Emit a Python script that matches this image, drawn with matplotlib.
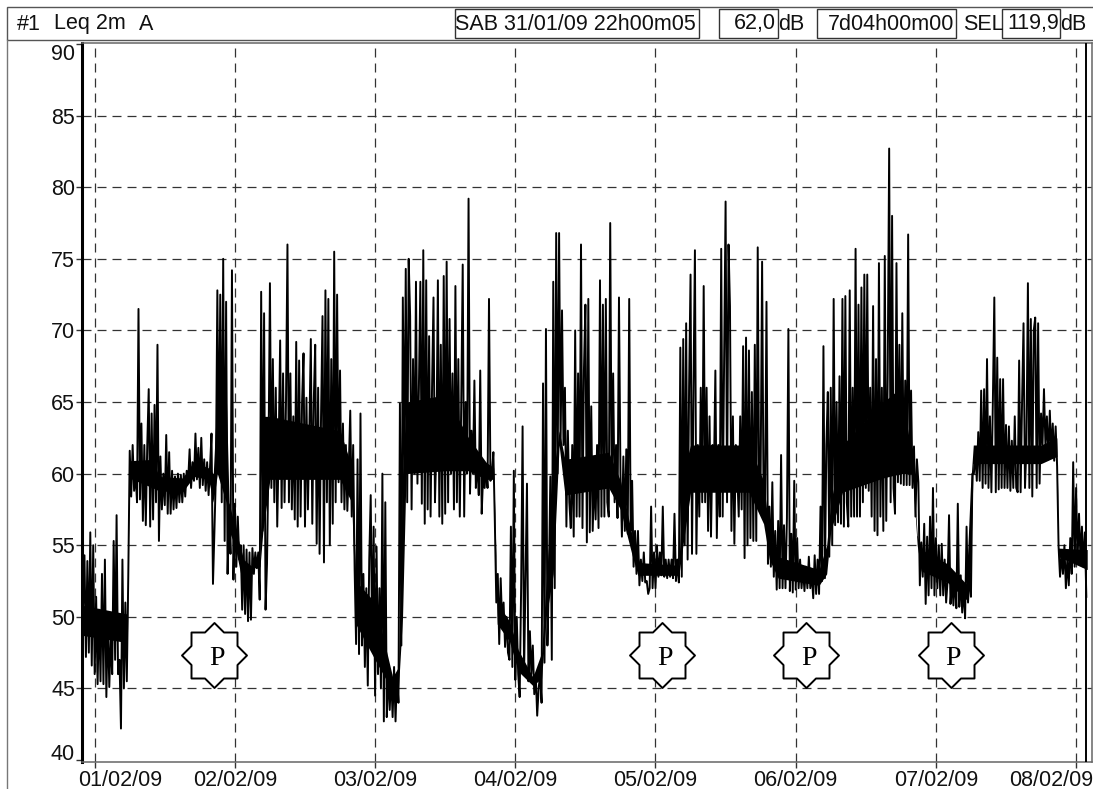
#%% Bibliotecas
import numpy as np
import matplotlib
matplotlib.use("Agg")
import matplotlib.pyplot as plt
from matplotlib.patches import Rectangle
from matplotlib.lines import Line2D
from matplotlib.path import Path
from matplotlib.transforms import ScaledTranslation

plt.rcParams["font.family"] = ["Liberation Sans", "DejaVu Sans"]

#%% Leq 2m A, dB, four readings per hour
leq_3101 = [50.5,54.3,47.2,53.9, 47.5,55.9,46.6,55]
leq_0102 = [46,51.4,45.3,50.5, 45.5,53,45.3,54, 44.4,50,45.1,48.5, 46,55.3,47,57.1,
            46,47,42.2,54, 45,51,45.5,52.8, 61.6,58.4,62,58.8, 60,58,71.5,58.2,
            63.5,56.7,62,56.4, 62,65.9,56.3,64.2, 56.8,64.8,58,69, 55.3,61.2,57.5,60,
            57.8,62.7,57.2,61.5, 57.2,60.2,57.5,59.8, 57.6,60,58,59.9, 58,60,58.4,60.2,
            59.5,61.7,59,60.8, 59.5,62.8,59.6,61.8, 59,62.5,59.2,61, 58.8,60.8,58.5,60.5,
            62.8,52.3,56,60, 72.8,60,72.5,58, 75,55.3,72,53, 57.2,54.4,74.2,52.6]
leq_0202 = [57.9,53.5,57,54, 55,50.5,55,50.2, 54.7,49.7,54.5,49.8, 54.8,53,54.5,53.4,
            54.5,51.2,72.7,56, 71.2,50.5,53.7,61, 73.3,59,68,58, 66,56.3,62,69.3,
            57.6,67,58,65, 76,58,67,57.5, 64,56.8,69.2,56.3, 67.9,57,65,68.4,
            56.3,65.3,57.5,63, 69.4,56.5,65,69, 55.1,66,54.4,64, 71,53.8,72.8,58,
            72.2,55,68,56.5, 75.5,58,72.5,59.4, 67.2,58,63.5,57.5, 62,57.4,60.5,64.4,
            57,62,53.3,48.1, 61,47.4,64.2,48, 53,46.5,52,45.2, 54,58.5,48,56.3]
leq_0302 = [44.5,54.9,46,52, 45,60,42.7,58, 43,46.3,43.5,46, 43,46.5,42.7,46,
            44,64.9,48,72.3, 60,74.3,58,75, 71,57.5,68,60, 73.4,59.3,66,73.4,
            57.9,75.6,56.5,73.5, 57.5,69.6,57,66, 72.3,58,62,73.5, 57,69,56.5,73.8,
            57.2,74.8,58,70.8, 60,67,57.5,73.1, 58,68,57,65, 74.6,57,65,60,
            79.2,58.6,63,60, 66.5,59,61,58.5, 67.2,57.2,60,59, 60.5,59,72.2,59.5,
            60,61.5,56.6,51, 53,48.1,52.7,49.5, 51,47.9,50,47.5, 47,56.3,46.5,60.2]
leq_0402 = [45.6,50,46,44.4, 52,63.3,46,52.5, 59.3,45.5,49,46, 48,44.6,46,43.1,
            45,46,44,66.3, 46.8,70.1,48,52.6, 59.8,47,73.4,52, 76.8,60,76.8,62,
            71.4,62,66,56.3, 63,58,56.2,62, 55.6,70,57,67, 57,76,56.2,67.2,
            71.8,55.2,72.2,55.9, 64.7,56,60,56.8, 62,56.2,73.5,57, 71.8,57,72.2,58,
            57,77.5,59,67, 58,62,56.9,72.3, 60,55.6,61.2,56, 61.7,55.8,72.2,56,
            59.5,53.5,56,53, 56,52.2,54,52.5, 54.5,52.4,52.5,51.6, 52,57.7,52,54.5]
leq_0502 = [52,55,52.8,54.5, 52.9,57.7,52.8,54, 52.7,54,52.8,54, 52.7,57.2,52.5,54,
            52.4,68.8,52.8,69.4, 55,70.5,54,66, 73.9,54.4,66,75.6, 54.4,62,57,66,
            58,73.1,58,66, 56,64,55.6,62, 60,67.2,55.5,62, 57,75.7,57,68,
            79,58,76,71.7, 56,64,55.1,62, 60,57,64,57.5, 68.9,54.1,69.5,55,
            68.6,55.5,65.7,55.3, 69,55.3,75.8,58, 60,74.8,57.9,58, 72,53.7,57.7,53.5,
            59.4,52.8,56,51.9, 56.7,52,61.3,52, 56.4,52,56.9,70.1, 51.8,55.8,51.7,59.5]
leq_0602 = [51.9,55.5,52,54, 52,53.4,51.8,53.5, 52,54.2,52,53, 51.3,54.3,51.6,54,
            51.6,57.7,52.5,68.9, 52.7,62,65.7,54.2, 66,55,72.2,56.4, 65,56.6,66.8,56.5,
            72.2,56.3,72.4,58, 56.3,72.8,57,66, 57,75.7,57,71.8, 57,73,58,73.9,
            59,73.9,58.8,66, 57,71.7,56,68, 55.7,74.7,57,66, 56,75.2,56.7,67,
            82.7,58,78,59, 57.2,74.7,59.4,69, 59.3,71.2,59.2,66.5, 59.2,76.7,59.2,65.8,
            59,61.9,57,61, 59.4,52.2,55.2,52.8, 56.5,50.9,55.6,51.5, 57,52,59,51.5]
leq_0702 = [55.5,52,55,51.5, 55.1,51.5,54,51, 52.5,57.1,50.9,52.7, 50.8,52.8,50.6,57.9,
            50.7,52.9,50.3,52, 49.9,56.3,51,53, 51.4,60,60,61.4, 59.5,62.9,59.5,65.8,
            59,65.9,59.3,68, 59,64,58.7,65, 72.3,58.7,68.1,58.9, 66.6,59,66.6,59,
            63.4,59,63.3,58.8, 62.3,59,64,59, 58.7,67.9,58.7,65, 70.5,59,62,73.3,
            59,70.8,58.4,70, 70.9,59,70.5,59.3, 64.2,62,65.9,62, 64,61,64.4,61.5,
            63.5,60.9,63.3,60.5, 54.9,52.8,54.4,53, 55,52,54,52.2, 55.5,53,60.8,53.5]
leq_0802 = [59,54,57.2,54, 56.3,53.5,55.9,51.4]

# Nucleo preto do traco: hora, minimo e maximo da faixa cheia
nucleo_h = [-2,5.6,5.9,10,11,15,17,19.5,20.3,21,22.5,23,24,25.5,27,28.3,28.8,30,36,42,44,44.7,48,51,52,52.7,53.3,60,
            64,67,68.3,68.9,71,72.5,75,76.5,77.3,78.5,79.5,80.5,88,90,92,93,100,100.7,102,112,114.5,115.5,117,124,
            125.3,126,128,135,138,140,140.8,141.5,146,149.2,149.9,150.4,162,164.7,165,169.9]
nucleo_min = [48.7,48.2,59.7,59,58.8,58.7,59.8,59.6,58,60,58,56,55,52,53.4,53.5,56,59.6,59.6,59.6,58,49.5,47,44.8,45,50,60,60.2,
              60.2,59.6,59.6,49.5,48.3,46.2,45.2,45.7,50,53,62,58.5,59,57.5,54.3,52.9,52.9,55,58.7,58.7,56.5,54,52.7,52.2,
              53,56,58.7,59.7,60,60,55,53.2,52.4,51.2,53,60.7,60.7,61.2,54.2,53.3]
nucleo_max = [50.8,50.2,60.9,61,59.8,59.7,60.8,60.4,60,66,66,58,56.3,54,53.5,54.2,64,64,63.5,63,60.5,52.5,51,45.8,46.5,60,65,65.5,
              62.5,60.8,60.4,51,49.7,47.7,45.8,47.5,52.5,60,63,61,61.5,59.5,55.7,53.8,53.6,60,62,62,59.5,55.7,54.2,53.3,
              55,58,62,65,66,61,55.7,54.7,53.7,52.3,59,62,62,62.5,54.8,54.7]

dias = ["01/02/09", "02/02/09", "03/02/09", "04/02/09",
        "05/02/09", "06/02/09", "07/02/09", "08/02/09"]
dias_h = [0, 24, 48, 72, 96, 120, 144, 168]
niveis = [40, 45, 50, 55, 60, 65, 70, 75, 80, 85, 90]

# Horas marcadas com o selo P
selo_h = [20.4, 97.1, 121.8, 146.5]
selo_db = [47.35, 47.35, 47.35, 47.35]

#%% Serie completa
leq = np.array(leq_3101 + leq_0102 + leq_0202 + leq_0302 + leq_0402 + leq_0502 + leq_0602 + leq_0702 + leq_0802)
horas = -2 + np.arange(len(leq)) * 0.25

W, H = 1093, 789
fig = plt.figure(figsize=(W / 100, H / 100), dpi=100, facecolor="white")
ax = fig.add_axes([82 / W, 1 - 761.5 / H, (1091.7 - 82) / W, (761.5 - 43) / H])

grade = dict(color="#333333", lw=0.9, ls=(0, (7.2, 4.8)), zorder=1)
for n in niveis[1:-1]:
    ax.axhline(n, **grade)
for d in dias_h:
    ax.axvline(d, **grade)

ax.fill_between(nucleo_h, nucleo_min, nucleo_max, color="black", lw=0, zorder=2)
ax.plot(horas, leq, color="black", lw=1.4, zorder=3)
ax.axvline(horas[-1], color="black", lw=1.4, zorder=3)

# Selo P: quadrado + losango
r, q = 32.5, 23
m = r - q
selo = Path([(r, 0), (q, m), (q, q), (m, q), (0, r), (-m, q), (-q, q), (-q, m),
             (-r, 0), (-q, -m), (-q, -q), (-m, -q), (0, -r), (m, -q), (q, -q), (q, -m), (r, 0)], closed=True)
ax.plot(selo_h, selo_db, ls="none", marker=selo, ms=46.8, mfc="white", mec="black", mew=1.4, zorder=4)
for x, y in zip(selo_h, selo_db):
    ax.annotate("P", (x, y), xytext=(2, -2.7), textcoords="offset points", ha="center", va="center",
                family="Liberation Serif", fontsize=20, color="black", zorder=5)

ax.set_xlim(-2.17, 170.67)
ax.set_ylim(39.9, 90.07)
ax.set_yticks(niveis)
ax.set_xticks(dias_h)
ax.set_xticklabels(dias)
ax.tick_params(axis="both", labelsize=15.5, length=4, width=1, color="#333333", labelcolor="#111111")
ax.tick_params(axis="y", pad=1)
ax.tick_params(axis="x", pad=2)

ylabels = ax.get_yticklabels()
ylabels[0].set_va("baseline")
ylabels[-1].set_va("top")

xlabels = ax.get_xticklabels()
xlabels[0].set_transform(xlabels[0].get_transform() + ScaledTranslation(26 / 100, 0, fig.dpi_scale_trans))
xlabels[-1].set_transform(xlabels[-1].get_transform() + ScaledTranslation(-25 / 100, 0, fig.dpi_scale_trans))

ax.spines["left"].set_linewidth(2.2)
ax.spines["left"].set_color("black")
for s in ["top", "right", "bottom"]:
    ax.spines[s].set_linewidth(1.1)
    ax.spines[s].set_color("#666666")

#%% Cabecalho
def caixa(x0, x1, y0, y1, cor):
    fig.add_artist(Rectangle((x0 / W, 1 - y1 / H), (x1 - x0) / W, (y1 - y0) / H, transform=fig.transFigure,
                             fill=False, ec=cor, lw=1))

def texto(x, s, ha="left"):
    fig.text(x / W, 1 - 24 / H, s, ha=ha, va="center", fontsize=15.5, color="#111111")

caixa(7, 1110, 7, 40, "#555555")
fig.add_artist(Line2D([6.7 / W, 6.7 / W], [0, 1 - 40 / H], transform=fig.transFigure, color="#777777", lw=1))
caixa(455, 699, 9, 38, "#333333")
caixa(719, 777.5, 9, 38, "#333333")
caixa(817, 956, 9, 38, "#333333")
caixa(1002, 1060, 9, 38, "#333333")

texto(17, "#1")
texto(54, "Leq 2m")
texto(139, "A")
texto(455, "SAB 31/01/09 22h00m05")
texto(775.5, "62,0", ha="right")
texto(778, "dB")
texto(828, "7d04h00m00")
texto(963, "SEL")
texto(1059, "119,9", ha="right")
texto(1060, "dB")

plt.savefig("out.png", dpi=100)
